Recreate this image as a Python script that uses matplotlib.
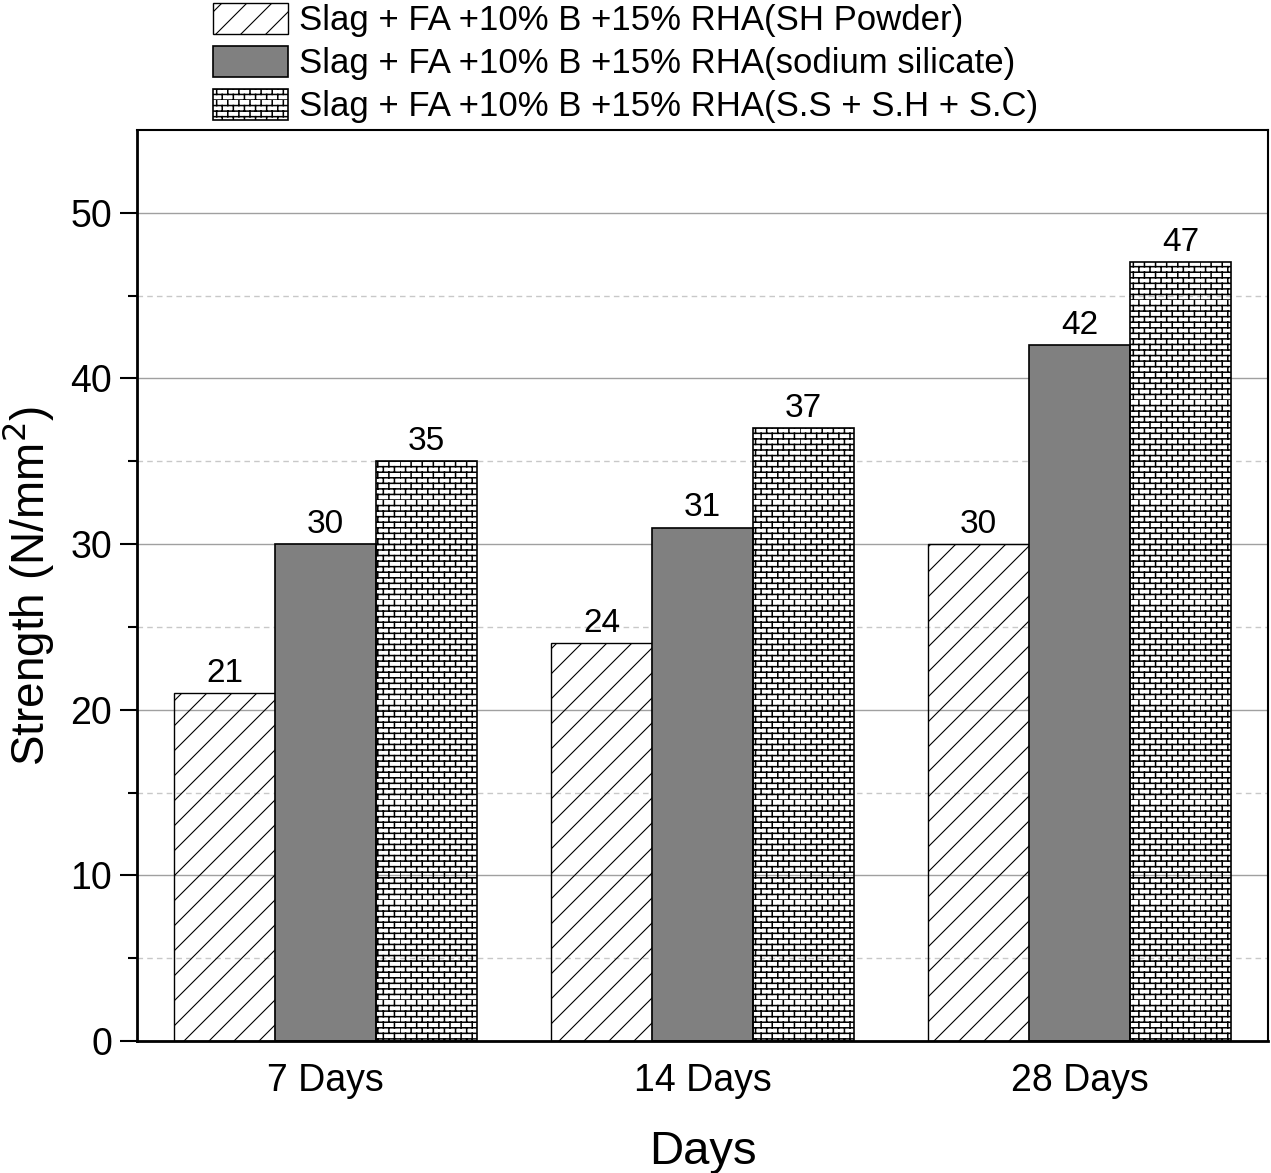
import warnings
import numpy as np
import matplotlib
matplotlib.use('Agg')
import matplotlib.pyplot as plt
from matplotlib import hatch as mhatch
from matplotlib.path import Path

warnings.filterwarnings('ignore')

days = ['7 Days', '14 Days', '28 Days']
sh_powder = [21, 24, 30]
sodium_silicate = [30, 31, 42]
mixed = [35, 37, 47]
labels = ['Slag + FA +10% B +15% RHA(SH Powder)',
          'Slag + FA +10% B +15% RHA(sodium silicate)',
          'Slag + FA +10% B +15% RHA(S.S + S.H + S.C)']


# sparse diagonal lines, 4 per hatch tile
class SparseSlash(mhatch.HatchPatternBase):
    def __init__(self, hatch, density):
        self.n = 4 if 'd' in hatch else 0
        self.num_vertices = (2 * self.n + 1) * 2 if self.n else 0

    def set_vertices_and_codes(self, vertices, codes):
        c = np.arange(-self.n, self.n + 1) / self.n
        vertices[0::2, 0] = 0.0
        vertices[0::2, 1] = c
        vertices[1::2, 0] = 1.0
        vertices[1::2, 1] = 1.0 + c
        codes[0::2] = Path.MOVETO
        codes[1::2] = Path.LINETO


# brick wall pattern
class BrickHatch(mhatch.HatchPatternBase):
    def __init__(self, hatch, density):
        self.rows = 18 if 'b' in hatch else 0
        self.cols = 9
        self.num_vertices = self.rows * 2 + self.rows * self.cols * 2

    def set_vertices_and_codes(self, vertices, codes):
        i = 0
        h = 1.0 / self.rows
        for r in range(self.rows):
            y = r * h
            vertices[i] = (0, y); codes[i] = Path.MOVETO
            vertices[i + 1] = (1, y); codes[i + 1] = Path.LINETO
            i += 2
            off = 0.5 * (r % 2)
            for j in range(self.cols):
                x = (j + off) / self.cols
                vertices[i] = (x, y); codes[i] = Path.MOVETO
                vertices[i + 1] = (x, y + h); codes[i + 1] = Path.LINETO
                i += 2


mhatch._hatch_types.append(SparseSlash)
mhatch._hatch_types.append(BrickHatch)

plt.rcParams['font.family'] = ['Liberation Sans', 'DejaVu Sans']
plt.rcParams['hatch.linewidth'] = 0.8
plt.rcParams['hatch.color'] = 'black'

fig = plt.figure(figsize=(12.71, 11.73), dpi=100)
ax = fig.add_axes([0.1078, 0.1125, 0.8898, 0.7767])

x = np.arange(len(days))
w = 0.268

b1 = ax.bar(x - w, sh_powder, w, facecolor='none', edgecolor='black', hatch='d', linewidth=1.0, label=labels[0])
b2 = ax.bar(x, sodium_silicate, w, facecolor='#808080', edgecolor='black', linewidth=1.2, label=labels[1])
b3 = ax.bar(x + w, mixed, w, facecolor='none', edgecolor='black', hatch='b', linewidth=1.2, label=labels[2])

# thicker lines for the brick pattern if supported
for rect in b3:
    try:
        rect.set_hatch_linewidth(1.1)
    except AttributeError:
        pass

for bars in (b1, b2, b3):
    for rect in bars:
        ax.annotate('%d' % rect.get_height(), (rect.get_x() + rect.get_width() / 2, rect.get_height()),
                    xytext=(0, 3), textcoords='offset points', ha='center', va='bottom', fontsize=24)

ax.set_xlim(-0.5, 2.5)
ax.set_ylim(0, 55)
ax.set_yticks(np.arange(0, 51, 10))
ax.set_yticks(np.arange(5, 51, 10), minor=True)
ax.set_xticks(x)
ax.set_xticklabels(days)

ax.set_axisbelow(True)
ax.grid(axis='y', which='major', color='#a0a0a0', linewidth=1.0)
ax.grid(axis='y', which='minor', color='#c8c8c8', linewidth=1.0, linestyle=(0, (4, 3)))

ax.tick_params(axis='y', which='major', length=12, width=1.5, labelsize=27, pad=6)
ax.tick_params(axis='y', which='minor', length=6.5, width=1.5)
ax.tick_params(axis='x', length=0, labelsize=27, pad=16)

for s in ['left', 'bottom']:
    ax.spines[s].set_linewidth(2)
for s in ['top', 'right']:
    ax.spines[s].set_linewidth(1.5)

ax.set_ylabel('Strength (N/mm$^2$)', fontsize=33, labelpad=10)
ax.set_xlabel('Days', fontsize=34, labelpad=22)

leg = fig.legend(handles=[b1, b2, b3], loc='upper left', bbox_to_anchor=(0.157, 1.0095), frameon=False,
                 fontsize=25, handlelength=2.16, handleheight=1.0, handletextpad=0.29, labelspacing=0.25,
                 borderaxespad=0)
for p in leg.get_patches():
    try:
        if p.get_hatch() == 'b':
            p.set_hatch_linewidth(1.1)
    except AttributeError:
        pass

fig.savefig('out.png', dpi=100)
